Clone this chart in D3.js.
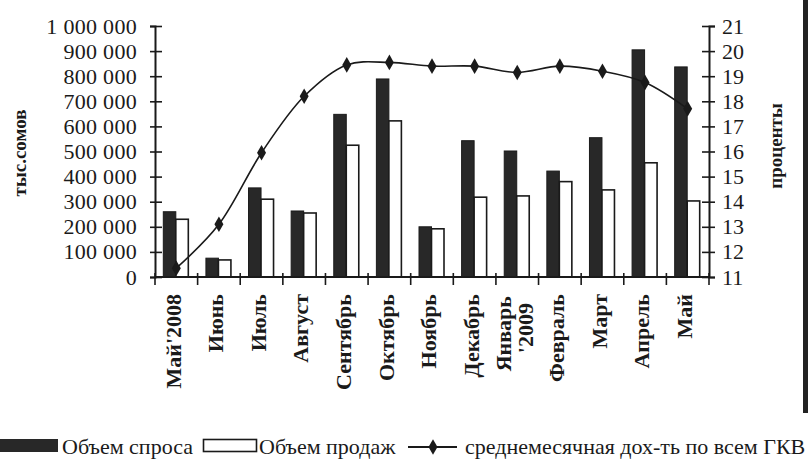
<!DOCTYPE html>
<html>
<head>
<meta charset="utf-8">
<script src="https://cdn.jsdelivr.net/npm/d3@7"></script>
<style>
  html, body { margin: 0; padding: 0; background: #fff; }
  svg { display: block; }
  text { font-family: "Liberation Serif", "Times New Roman", serif; fill: #1a1a1a; }
</style>
</head>
<body>
<svg id="chart" width="808" height="461"></svg>
<script>
// ---- data ----
const categories = ["Май'2008", "Июнь", "Июль", "Август", "Сентябрь", "Октябрь", "Ноябрь",
  "Декабрь", "Январь\n'2009", "Февраль", "Март", "Апрель", "Май"];
const demand = [260000, 75000, 355000, 263000, 648000, 789000, 200000, 543000, 502000, 422000, 555000, 905000, 837000];
const sales  = [230000, 68000, 310000, 255000, 525000, 622000, 192000, 318000, 323000, 380000, 347000, 455000, 303000];
const yieldPct = [11.35, 13.1, 15.95, 18.2, 19.45, 19.55, 19.4, 19.4, 19.15, 19.4, 19.2, 18.75, 17.7];
const leftTicks = d3.range(0, 1000001, 100000);
const rightTicks = d3.range(11, 22, 1);
const seriesNames = ["Объем спроса", "Объем продаж", "среднемесячная дох-ть по всем ГКВ"];
const leftTitle = "тыс.сомов";
const rightTitle = "проценты";

// ---- layout ----
const svg = d3.select("#chart");
const X0 = 155, X1 = 709, Y0 = 277, Y1 = 26;
const ink = "#1a1a1a";

const x = d3.scaleBand().domain(categories).range([X0, X1]).padding(0);
const bw = x.bandwidth();
const xs = d3.scaleBand().domain(["d", "s"]).range([bw / 2 - 13, bw / 2 + 12]).padding(0);
const yL = d3.scaleLinear().domain([0, 1000000]).range([Y0, Y1]);
const yR = d3.scaleLinear().domain([11, 21]).range([Y0, Y1]);

const loc = d3.formatLocale({ decimal: ",", thousands: " ", grouping: [3], currency: ["", ""] });
const fmt = loc.format(",d");

// bars
const g = svg.append("g");
g.selectAll("rect.d").data(demand).join("rect")
  .attr("x", (d, i) => x(categories[i]) + xs("d"))
  .attr("y", d => yL(d))
  .attr("width", xs.bandwidth())
  .attr("height", d => Y0 - yL(d))
  .attr("fill", "#282828").attr("stroke", ink).attr("stroke-width", 1);
g.selectAll("rect.s").data(sales).join("rect")
  .attr("x", (d, i) => x(categories[i]) + xs("s"))
  .attr("y", d => yL(d))
  .attr("width", xs.bandwidth())
  .attr("height", d => Y0 - yL(d))
  .attr("fill", "#fff").attr("stroke", ink).attr("stroke-width", 1.6);

// left axis
const axL = svg.append("g").attr("transform", `translate(${X0},0)`)
  .call(d3.axisLeft(yL).tickValues(leftTicks).tickFormat(fmt).tickSize(5).tickPadding(13));
axL.select(".domain").attr("stroke", ink).attr("stroke-width", 2);
axL.selectAll(".tick line").attr("x1", 7).attr("stroke", ink).attr("stroke-width", 1.6);
axL.selectAll(".tick text").attr("font-size", 22).attr("font-family", "Liberation Serif, serif").attr("fill", ink).attr("letter-spacing", 0.3);

// right axis
const axR = svg.append("g").attr("transform", `translate(${X1},0)`)
  .call(d3.axisRight(yR).tickValues(rightTicks).tickFormat(d3.format("d")).tickSize(6).tickPadding(7));
axR.select(".domain").attr("stroke", ink).attr("stroke-width", 2);
axR.selectAll(".tick line").attr("x1", -7).attr("stroke", ink).attr("stroke-width", 1.6);
axR.selectAll(".tick text").attr("font-size", 22).attr("font-family", "Liberation Serif, serif").attr("fill", ink);

// bottom axis
const axB = svg.append("g").attr("transform", `translate(0,${Y0})`);
axB.append("line").attr("x1", X0).attr("x2", X1).attr("stroke", ink).attr("stroke-width", 2);
const bounds = categories.map(c => x(c)).concat([X1]);
axB.selectAll("line.t").data(bounds).join("line")
  .attr("x1", d => d).attr("x2", d => d).attr("y1", -4).attr("y2", 8)
  .attr("stroke", ink).attr("stroke-width", 1.6);

// category labels
categories.forEach((c, i) => {
  const cx = x(c) + bw / 2 - 3;
  const lines = c.split("\n");
  if (lines.length === 1) {
    svg.append("text")
      .attr("transform", `translate(${cx},294) rotate(-90)`)
      .attr("text-anchor", "end").attr("dy", "0.33em")
      .attr("font-size", 22).attr("font-weight", "bold")
      .text(c);
  } else {
    svg.append("text")
      .attr("transform", `translate(${cx - 10},296) rotate(-90)`)
      .attr("text-anchor", "end").attr("dy", "0.33em")
      .attr("font-size", 22).attr("font-weight", "bold")
      .text(lines[0]);
    svg.append("text")
      .attr("transform", `translate(${cx + 12},303) rotate(-90)`)
      .attr("text-anchor", "end").attr("dy", "0.33em")
      .attr("font-size", 22).attr("font-weight", "bold")
      .text(lines[1]);
  }
});

// line series
const lineGen = d3.line()
  .x((d, i) => x(categories[i]) + bw / 2)
  .y(d => yR(d))
  .curve(d3.curveCatmullRom.alpha(0.5));
svg.append("path").datum(yieldPct).attr("d", lineGen)
  .attr("fill", "none").attr("stroke", ink).attr("stroke-width", 1.6);
const diamond = d3.symbol().type(d3.symbolDiamond).size(70);
svg.selectAll("path.m").data(yieldPct).join("path")
  .attr("d", diamond)
  .attr("transform", (d, i) => `translate(${x(categories[i]) + bw / 2},${yR(d)})`)
  .attr("fill", ink);

// axis titles
svg.append("text").attr("transform", "translate(20,153) rotate(-90)")
  .attr("text-anchor", "middle").attr("dy", "0.33em")
  .attr("font-size", 19).attr("font-weight", "bold").text(leftTitle);
svg.append("text").attr("transform", "translate(776,146) rotate(-90)")
  .attr("text-anchor", "middle").attr("dy", "0.33em")
  .attr("font-size", 19).attr("font-weight", "bold").text(rightTitle);

// legend
const lg = svg.append("g");
lg.append("rect").attr("x", 0).attr("y", 439).attr("width", 58).attr("height", 13).attr("fill", "#282828");
lg.append("text").attr("x", 62).attr("y", 454).attr("font-size", 22).text(seriesNames[0]);
lg.append("rect").attr("x", 203.5).attr("y", 439.5).attr("width", 53).attr("height", 12)
  .attr("fill", "#fff").attr("stroke", ink).attr("stroke-width", 1.6);
lg.append("text").attr("x", 259).attr("y", 454).attr("font-size", 22).text(seriesNames[1]);
lg.append("line").attr("x1", 408).attr("x2", 457).attr("y1", 447).attr("y2", 447)
  .attr("stroke", ink).attr("stroke-width", 1.8);
lg.append("path").attr("d", diamond).attr("transform", "translate(433,447)").attr("fill", ink);
lg.append("text").attr("x", 465).attr("y", 454).attr("font-size", 22).text(seriesNames[2]);

// scan edge on the right
svg.append("rect").attr("x", 803).attr("y", 0).attr("width", 5).attr("height", 413).attr("fill", "#222");
</script>
</body>
</html>
